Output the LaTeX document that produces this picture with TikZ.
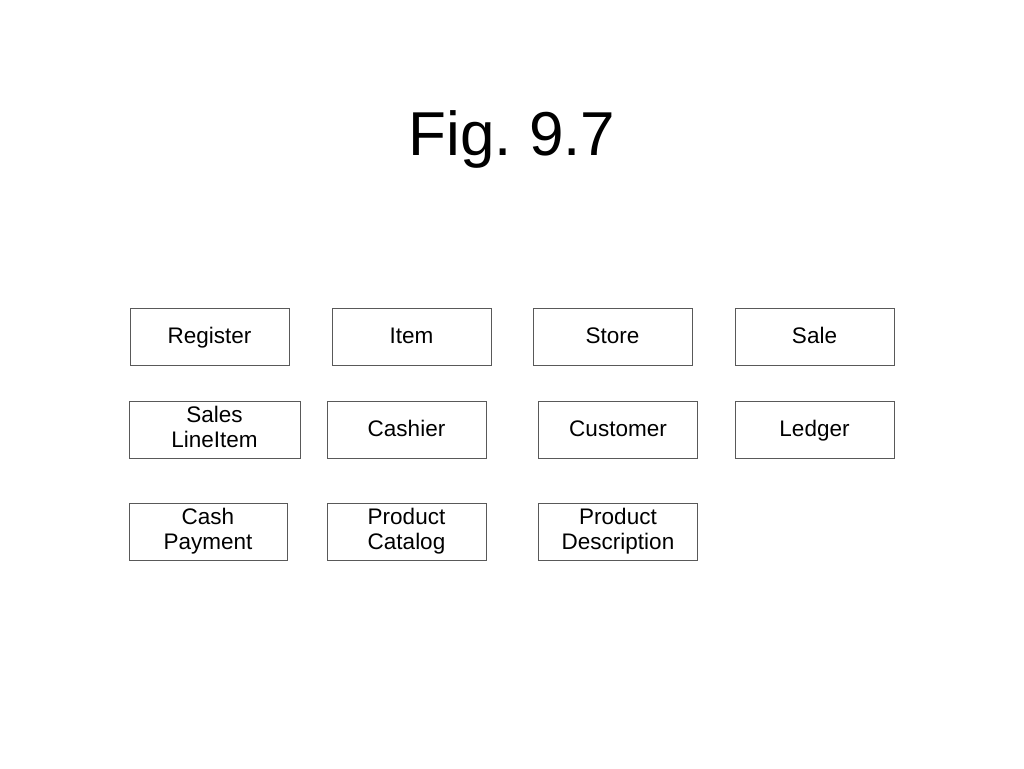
\documentclass[tikz,border=0pt]{standalone}
\usepackage{fontspec}
\setmainfont{Liberation Sans}
\usepackage{tikz}
\usetikzlibrary{positioning}

\newcommand{\boxstrut}{\vrule height18pt depth5pt width0pt}
\newcommand{\pairstrut}{\vrule height22pt depth0pt width0pt}

\begin{document}
\begin{tikzpicture}[x=1pt,y=-1pt,every node/.style={inner sep=0pt},
  concept/.style={draw=black!65,line width=0.7pt,minimum width=159pt,minimum height=57pt,align=center,
    font=\fontsize{22.5}{24.6}\selectfont,execute at begin node=\boxstrut,execute at end node=\boxstrut},
  twoline/.style={concept,execute at begin node=\pairstrut},
  wide/.style={twoline,minimum width=171pt}]
			\useasboundingbox (0,0) rectangle (1024,768);
			\node[font=\fontsize{62}{70}\selectfont,anchor=base] (Title) at (512,155) {Fig.\ 9.7};

			\node[concept] (Register)     at (209.5,336.5) {Register};
			\node[concept] (Item)         at (411.5,336.5) {Item};
			\node[concept] (Store)        at (612.5,336.5) {Store};
			\node[concept] (Sale)         at (814.5,336.5) {Sale};

			\node[wide]    (SalesLineItem) at (214.5,429.5) {Sales\\LineItem};
			\node[concept] (Cashier)      at (406.5,429.5) {Cashier};
			\node[concept] (Customer)     at (618,429.5)   {Customer};
			\node[concept] (Ledger)       at (814.5,429.5) {Ledger};

			\node[twoline,minimum width=158pt] (CashPayment) at (208,531.5) {Cash\\Payment};
			\node[twoline] (ProductCatalog)     at (406.5,531.5) {Product\\Catalog};
			\node[twoline] (ProductDescription) at (618,531.5)   {Product\\Description};
		\end{tikzpicture}
\end{document}
